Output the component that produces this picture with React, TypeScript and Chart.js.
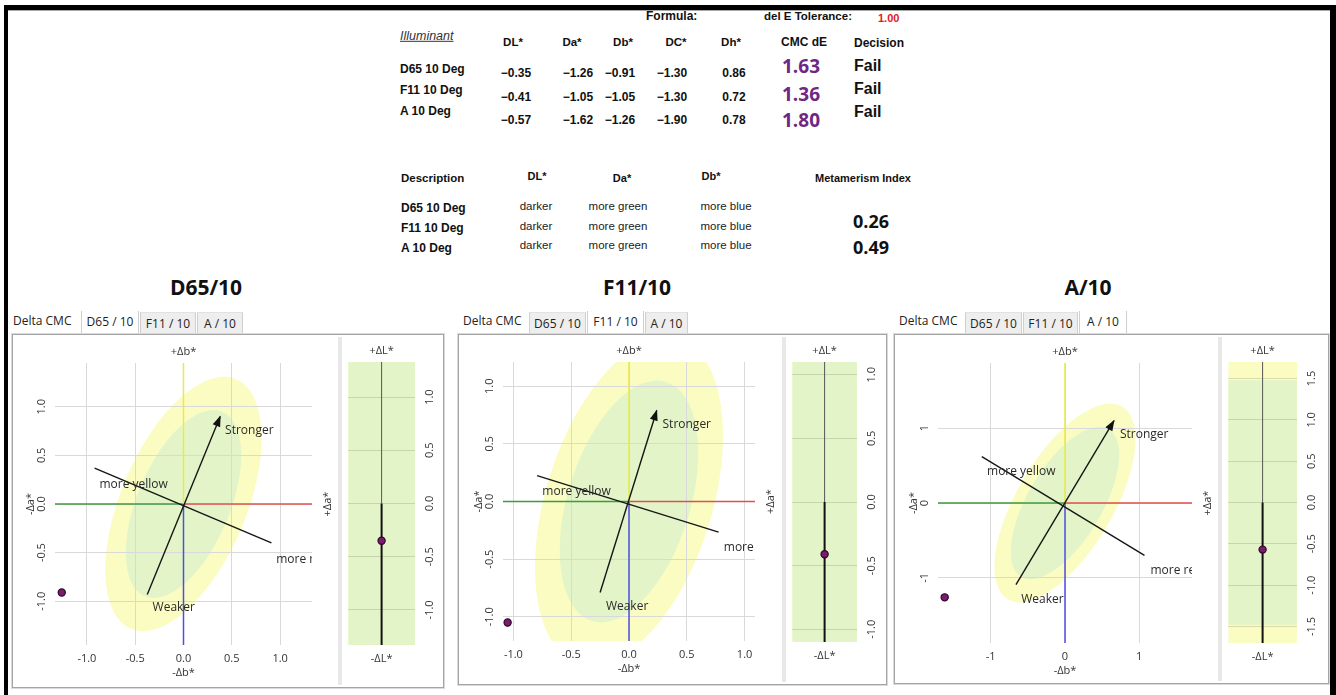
import React, { useEffect, useRef } from "react";
import { Chart, registerables } from "chart.js";

Chart.register(...registerables);

// ---------------- data ----------------
const illuminants = ["D65 10 Deg", "F11 10 Deg", "A 10 Deg"];
const panelTitles = ["D65/10", "F11/10", "A/10"];
const tabNames = ["D65 / 10", "F11 / 10", "A / 10"];
const tableHeaders = ["DL*", "Da*", "Db*", "DC*", "Dh*", "CMC dE", "Decision"];
const deltaL = [-0.35, -0.41, -0.57];
const deltaA = [-1.26, -1.05, -1.62];
const deltaB = [-0.91, -1.05, -1.26];
const deltaC = [-1.3, -1.3, -1.9];
const deltaH = [0.86, 0.72, 0.78];
const cmcDE = [1.63, 1.36, 1.8];
const decisions = ["Fail", "Fail", "Fail"];
const toleranceDE = 1.0;
const descHeaders = ["DL*", "Da*", "Db*"];
const descL = ["darker", "darker", "darker"];
const descA = ["more green", "more green", "more green"];
const descB = ["more blue", "more blue", "more blue"];
const metamerismIndex = [0.26, 0.49];

// chart values (data units)
const abLimitX = [1.33, 1.09, 1.71];
const abLimitY = [1.45, 1.21, 1.87];
const abStep = [0.5, 0.5, 1];
const lLimit = [1.33, 1.1, 1.7];
const lStep = [0.5, 0.5, 0.5];
const hueStart = [[-0.92, 0.37], [-0.795, 0.225], [-1.12, 0.62]];
const hueEnd = [[0.91, -0.4], [0.775, -0.266], [1.07, -0.7]];
const chromaStart = [[-0.375, -0.93], [-0.25, -0.79], [-0.66, -1.09]];
const chromaEnd = [[0.38, 0.9], [0.24, 0.79], [0.66, 1.1]];
const ellipseAngleDeg = [67, 72.8, 59];
const ellipseInner = [[1.03, 0.48], [1.086, 0.53], [1.15, 0.5]];
const ellipseOuter = [[1.395, 0.65], [1.47, 0.72], [1.5, 0.645]];
const lTolInner = [1.48, 1.48, 1.48];
const lTolOuter = [2.0, 2.0, 2.0];
const annotationTexts = ["Stronger", "Weaker", "more yellow", "more red"];
const annotationAnchors = [
  [[0.43, 0.76], [-0.32, -1.07], [-0.87, 0.2], [0.96, -0.57]],
  [[0.29, 0.67], [-0.2, -0.91], [-0.75, 0.09], [0.82, -0.4]],
  [[0.74, 0.91], [-0.59, -1.29], [-1.05, 0.42], [1.15, -0.9]],
];

// ---------------- layout ----------------
type Rect = [number, number, number, number];
const panels = [
  {
    titleX: 206,
    box: [12, 334, 432, 354] as Rect,
    sep: 338,
    mainCanvas: [13, 335, 325, 352] as Rect,
    mainArea: [55, 363, 312, 645],
    lCanvas: [343, 335, 100, 352] as Rect,
    lArea: [348, 362, 415, 645],
    deltaX: 13,
    tabs: [[81, 139], [140, 196], [197, 243]],
    active: 0,
  },
  {
    titleX: 637,
    box: [458, 334, 429, 351] as Rect,
    sep: 782,
    mainCanvas: [459, 335, 323, 349] as Rect,
    mainArea: [503, 362, 755, 641],
    lCanvas: [787, 335, 99, 349] as Rect,
    lArea: [791, 362, 857, 642],
    deltaX: 463,
    tabs: [[529, 586], [587, 644], [645, 688]],
    active: 1,
  },
  {
    titleX: 1088,
    box: [894, 334, 435, 350] as Rect,
    sep: 1218,
    mainCanvas: [895, 335, 323, 348] as Rect,
    mainArea: [938, 363, 1192, 643],
    lCanvas: [1223, 335, 105, 348] as Rect,
    lArea: [1228, 362, 1297, 643],
    deltaX: 899,
    tabs: [[965, 1022], [1023, 1078], [1079, 1127]],
    active: 2,
  },
];

const CH_FONT = "'Open Sans', 'Noto Sans', sans-serif";
const TB_FONT = "'Liberation Sans', Arial, sans-serif";

const fmtSigned = (v: number) => (v < 0 ? "\u2212" + Math.abs(v).toFixed(2) : v.toFixed(2));
const fmtTick = (v: number, step: number) =>
  step < 1 ? (Math.abs(v) < 1e-9 ? 0 : v).toFixed(1) : String(Math.round(v) === 0 ? 0 : Math.round(v));

function rotText(ctx: CanvasRenderingContext2D, text: string, x: number, y: number) {
  ctx.save();
  ctx.translate(x, y);
  ctx.rotate(-Math.PI / 2);
  ctx.textAlign = "center";
  ctx.textBaseline = "middle";
  ctx.fillText(text, 0, 0);
  ctx.restore();
}

function makeAbPlugin(i: number) {
  return {
    id: "abDecor" + i,
    beforeDraw(chart: any) {
      const { ctx, chartArea: a } = chart;
      const xs = chart.scales.x, ys = chart.scales.y;
      const cx = xs.getPixelForValue(0), cy = ys.getPixelForValue(0);
      const kx = xs.getPixelForValue(1) - cx, ky = ys.getPixelForValue(1) - cy;
      ctx.save();
      ctx.beginPath();
      ctx.rect(a.left, a.top, a.right - a.left, a.bottom - a.top);
      ctx.clip();
      const ell = (ax: number[], color: string) => {
        ctx.save();
        ctx.translate(cx, cy);
        ctx.scale(kx, ky);
        ctx.rotate((ellipseAngleDeg[i] * Math.PI) / 180);
        ctx.beginPath();
        ctx.ellipse(0, 0, ax[0], ax[1], 0, 0, Math.PI * 2);
        ctx.restore();
        ctx.fillStyle = color;
        ctx.fill();
      };
      ell(ellipseOuter[i], "#fbfcc2");
      ell(ellipseInner[i], "#e3f5c8");
      ctx.restore();
    },
    beforeDatasetsDraw(chart: any) {
      const { ctx, chartArea: a } = chart;
      const x0 = chart.scales.x.getPixelForValue(0), y0 = chart.scales.y.getPixelForValue(0);
      const seg = (x1: number, y1: number, x2: number, y2: number, c: string) => {
        ctx.beginPath();
        ctx.moveTo(x1, y1);
        ctx.lineTo(x2, y2);
        ctx.strokeStyle = c;
        ctx.lineWidth = 1.5;
        ctx.stroke();
      };
      ctx.save();
      seg(a.left, y0, x0, y0, "#3f9a3a");
      seg(x0, y0, a.right, y0, "#e0504c");
      seg(x0, a.top, x0, y0, "#e9e94a");
      seg(x0, y0, x0, a.bottom, "#4e4ee0");
      ctx.restore();
    },
    afterDatasetsDraw(chart: any) {
      const { ctx, chartArea: a } = chart;
      const xs = chart.scales.x, ys = chart.scales.y;
      // arrow head on the chroma line
      const sx = xs.getPixelForValue(chromaStart[i][0]), sy = ys.getPixelForValue(chromaStart[i][1]);
      const ex = xs.getPixelForValue(chromaEnd[i][0]), ey = ys.getPixelForValue(chromaEnd[i][1]);
      const ang = Math.atan2(ey - sy, ex - sx);
      ctx.save();
      ctx.translate(ex, ey);
      ctx.rotate(ang);
      ctx.beginPath();
      ctx.moveTo(1, 0);
      ctx.lineTo(-10, -4);
      ctx.lineTo(-10, 4);
      ctx.closePath();
      ctx.fillStyle = "#111";
      ctx.fill();
      ctx.restore();

      // annotations, clipped to the plot area
      ctx.save();
      ctx.beginPath();
      ctx.rect(a.left, a.top, a.right - a.left, a.bottom - a.top);
      ctx.clip();
      ctx.font = `12px ${CH_FONT}`;
      ctx.fillStyle = "#2a2a2a";
      ctx.textAlign = "left";
      ctx.textBaseline = "middle";
      annotationTexts.forEach((t, k) => {
        const p = annotationAnchors[i][k];
        ctx.fillText(t, xs.getPixelForValue(p[0]), ys.getPixelForValue(p[1]));
      });
      ctx.restore();

      // ticks and axis titles
      ctx.save();
      ctx.font = `11px ${CH_FONT}`;
      ctx.fillStyle = "#333";
      ctx.textAlign = "center";
      ctx.textBaseline = "middle";
      const x0 = xs.getPixelForValue(0), y0 = ys.getPixelForValue(0);
      xs.ticks.forEach((t: any) => {
        ctx.fillText(fmtTick(t.value, abStep[i]), xs.getPixelForValue(t.value), a.bottom + 14);
      });
      ys.ticks.forEach((t: any) => {
        rotText(ctx, fmtTick(t.value, abStep[i]), a.left - 13, ys.getPixelForValue(t.value));
      });
      ctx.fillText("+\u0394b*", x0, a.top - 11);
      ctx.fillText("-\u0394b*", x0, a.bottom + 28);
      rotText(ctx, "-\u0394a*", a.left - 24, y0);
      rotText(ctx, "+\u0394a*", a.right + 16, y0);
      ctx.restore();
    },
  };
}

function makeLPlugin(i: number) {
  return {
    id: "lDecor" + i,
    beforeDraw(chart: any) {
      const { ctx, chartArea: a } = chart;
      const ys = chart.scales.y;
      ctx.save();
      ctx.beginPath();
      ctx.rect(a.left, a.top, a.right - a.left, a.bottom - a.top);
      ctx.clip();
      const band = (tol: number, c: string) => {
        const t = ys.getPixelForValue(tol), b = ys.getPixelForValue(-tol);
        ctx.fillStyle = c;
        ctx.fillRect(a.left, t, a.right - a.left, b - t);
      };
      band(lTolOuter[i], "#fbfcc2");
      band(lTolInner[i], "#e3f5c8");
      ctx.restore();
    },
    beforeDatasetsDraw(chart: any) {
      const { ctx, chartArea: a } = chart;
      const x0 = chart.scales.x.getPixelForValue(0), y0 = chart.scales.y.getPixelForValue(0);
      ctx.save();
      ctx.beginPath();
      ctx.moveTo(x0, a.top);
      ctx.lineTo(x0, y0);
      ctx.strokeStyle = "#555";
      ctx.lineWidth = 1;
      ctx.stroke();
      ctx.beginPath();
      ctx.moveTo(x0, y0);
      ctx.lineTo(x0, a.bottom);
      ctx.strokeStyle = "#111";
      ctx.lineWidth = 2;
      ctx.stroke();
      ctx.restore();
    },
    afterDatasetsDraw(chart: any) {
      const { ctx, chartArea: a } = chart;
      const ys = chart.scales.y;
      const x0 = chart.scales.x.getPixelForValue(0);
      ctx.save();
      ctx.font = `11px ${CH_FONT}`;
      ctx.fillStyle = "#333";
      ctx.textAlign = "center";
      ctx.textBaseline = "middle";
      ys.ticks.forEach((t: any) => {
        rotText(ctx, fmtTick(t.value, lStep[i]), a.right + 15, ys.getPixelForValue(t.value));
      });
      ctx.fillText("+\u0394L*", x0, a.top - 11);
      ctx.fillText("-\u0394L*", x0, a.bottom + 14);
      ctx.restore();
    },
  };
}

function padOf(canvas: Rect, area: number[]) {
  return {
    left: area[0] - canvas[0],
    top: area[1] - canvas[1],
    right: canvas[0] + canvas[2] - area[2],
    bottom: canvas[1] + canvas[3] - area[3],
  };
}

function abConfig(i: number): any {
  const p = panels[i];
  const lineDs = (s: number[], e: number[]) => ({
    data: [{ x: s[0], y: s[1] }, { x: e[0], y: e[1] }],
    showLine: true,
    borderColor: "#161616",
    borderWidth: 1.4,
    pointRadius: 0,
    fill: false,
  });
  return {
    type: "scatter",
    data: {
      datasets: [
        lineDs(hueStart[i], hueEnd[i]),
        lineDs(chromaStart[i], chromaEnd[i]),
        {
          data: [{ x: deltaA[i], y: deltaB[i] }],
          pointRadius: 3.6,
          pointBackgroundColor: "#7a1b6c",
          pointBorderColor: "#2a0826",
          pointBorderWidth: 1.2,
        },
      ],
    },
    options: {
      animation: false,
      responsive: false,
      events: [],
      layout: { padding: padOf(p.mainCanvas, p.mainArea) },
      plugins: { legend: { display: false }, tooltip: { enabled: false } },
      scales: {
        x: {
          type: "linear",
          min: -abLimitX[i],
          max: abLimitX[i],
          ticks: { display: false, stepSize: abStep[i], includeBounds: false },
          grid: { color: "#d9d9d9", drawTicks: false, lineWidth: 1 },
          border: { display: false },
        },
        y: {
          type: "linear",
          min: -abLimitY[i],
          max: abLimitY[i],
          ticks: { display: false, stepSize: abStep[i], includeBounds: false },
          grid: { color: "#d9d9d9", drawTicks: false, lineWidth: 1 },
          border: { display: false },
        },
      },
    },
    plugins: [makeAbPlugin(i)],
  };
}

function lConfig(i: number): any {
  const p = panels[i];
  return {
    type: "scatter",
    data: {
      datasets: [
        {
          data: [{ x: 0, y: deltaL[i] }],
          pointRadius: 3.6,
          pointBackgroundColor: "#7a1b6c",
          pointBorderColor: "#2a0826",
          pointBorderWidth: 1.2,
        },
      ],
    },
    options: {
      animation: false,
      responsive: false,
      events: [],
      layout: { padding: padOf(p.lCanvas, p.lArea) },
      plugins: { legend: { display: false }, tooltip: { enabled: false } },
      scales: {
        x: { type: "linear", display: false, min: -1, max: 1 },
        y: {
          type: "linear",
          min: -lLimit[i],
          max: lLimit[i],
          ticks: { display: false, stepSize: lStep[i], includeBounds: false },
          grid: { color: "rgba(0,0,0,0.13)", drawTicks: false, lineWidth: 1 },
          border: { display: false },
        },
      },
    },
    plugins: [makeLPlugin(i)],
  };
}

function ChartCanvas({ rect, make }: { rect: Rect; make: () => any }) {
  const ref = useRef<HTMLCanvasElement>(null);
  useEffect(() => {
    const chart = new Chart(ref.current as HTMLCanvasElement, make());
    return () => chart.destroy();
  }, []);
  return (
    <canvas
      ref={ref}
      width={rect[2]}
      height={rect[3]}
      style={{ position: "absolute", left: rect[0], top: rect[1], width: rect[2], height: rect[3] }}
    />
  );
}

function Txt({ x, y, a = "left", s, children }: any) {
  const tx = a === "center" ? "-50%" : a === "right" ? "-100%" : "0";
  return (
    <div
      style={{
        position: "absolute",
        left: x,
        top: y,
        transform: `translate(${tx}, -50%)`,
        whiteSpace: "nowrap",
        lineHeight: 1.15,
        ...s,
      }}
    >
      {children}
    </div>
  );
}

const bold12 = { fontFamily: TB_FONT, fontWeight: 700, fontSize: 12, color: "#111" };
const bold11 = { fontFamily: TB_FONT, fontWeight: 700, fontSize: 11, color: "#111" };

function Panel({ i }: { i: number }) {
  const p = panels[i];
  const [bx, by, bw, bh] = p.box;
  return (
    <>
      <Txt x={p.titleX} y={287} a="center" s={{ fontFamily: CH_FONT, fontWeight: 700, fontSize: 21, color: "#111" }}>
        {panelTitles[i]}
      </Txt>
      <Txt x={p.deltaX} y={321} s={{ fontFamily: CH_FONT, fontSize: 12, color: "#222" }}>
        Delta CMC
      </Txt>
      {p.tabs.map((t, k) => {
        const act = k === p.active;
        return (
          <div
            key={k}
            style={{
              position: "absolute",
              left: t[0],
              top: act ? 311 : 312,
              width: t[1] - t[0],
              height: act ? 23 : 22,
              boxSizing: "border-box",
              background: act ? "#fff" : "#eeeeee",
              borderLeft: "1px solid #cfcfcf",
              borderRight: "1px solid #cfcfcf",
              borderTop: act ? "none" : "1px solid #e2e2e2",
              fontFamily: CH_FONT,
              fontSize: 12,
              color: "#222",
              display: "flex",
              alignItems: "center",
              justifyContent: "center",
              paddingBottom: act ? 3 : 0,
            }}
          >
            {tabNames[k]}
          </div>
        );
      })}
      <div
        style={{
          position: "absolute",
          left: bx,
          top: by,
          width: bw,
          height: bh,
          boxSizing: "border-box",
          border: "1px solid #a4a4a4",
          boxShadow: "0 0 0 1px #dadada",
          background: "#fff",
        }}
      />
      <div
        style={{ position: "absolute", left: p.sep, top: by + 3, width: 4, height: bh - 6, background: "#e8e8e8" }}
      />
      <ChartCanvas rect={p.mainCanvas} make={() => abConfig(i)} />
      <ChartCanvas rect={p.lCanvas} make={() => lConfig(i)} />
    </>
  );
}

export default function App() {
  const headerX = [513, 572, 623, 676, 731, 804, 879];
  const valueX = [516, 578, 620, 672, 734];
  const rowY = [70, 91, 112];
  const valY = [74, 98, 121];
  const cmcY = [67, 95, 121];
  const failY = [66, 89, 112];
  const descRowY = [209, 229, 249];
  const descValY = [207, 227, 246];
  const miY = [221, 247];
  return (
    <div
      style={{
        position: "absolute",
        left: 0,
        top: 0,
        width: 1336,
        height: 695,
        overflow: "hidden",
        background: "#fff",
      }}
    >
      {/* outer frame */}
      <div
        style={{
          position: "absolute",
          left: 4,
          top: 5,
          width: 1332,
          height: 720,
          boxSizing: "border-box",
          borderTop: "5px solid #000",
          borderLeft: "4px solid #000",
          borderRight: "6px solid #000",
        }}
      />
      <div style={{ position: "absolute", left: 8, top: 10, width: 1322, height: 1, background: "#a8a8a8" }} />

      {/* top table */}
      <Txt x={646} y={17} s={bold12}>Formula:</Txt>
      <Txt x={764} y={17} s={{ ...bold11, fontSize: 11.5 }}>del E Tolerance:</Txt>
      <Txt x={878} y={18} s={{ ...bold11, color: "#e3191c" }}>{toleranceDE.toFixed(2)}</Txt>
      <Txt x={400} y={36} s={{ fontFamily: TB_FONT, fontStyle: "italic", textDecoration: "underline", fontSize: 12.5, color: "#333" }}>
        Illuminant
      </Txt>
      {tableHeaders.map((h, k) => (
        <Txt key={h} x={headerX[k]} y={k === 6 ? 44 : 43} a="center" s={{ ...bold11, fontSize: k >= 5 ? 12 : 11.5 }}>
          {h}
        </Txt>
      ))}
      {illuminants.map((name, r) => (
        <React.Fragment key={name}>
          <Txt x={400} y={rowY[r]} s={bold12}>{name}</Txt>
          {[deltaL[r], deltaA[r], deltaB[r], deltaC[r], deltaH[r]].map((v, k) => (
            <Txt key={k} x={valueX[k]} y={valY[r]} a="center" s={bold12}>
              {fmtSigned(v)}
            </Txt>
          ))}
          <Txt x={801} y={cmcY[r]} a="center" s={{ fontFamily: CH_FONT, fontWeight: 700, fontSize: 19, color: "#6e2783" }}>
            {cmcDE[r].toFixed(2)}
          </Txt>
          <Txt x={854} y={failY[r]} s={{ ...bold12, fontSize: 16 }}>{decisions[r]}</Txt>
        </React.Fragment>
      ))}

      {/* description table */}
      <Txt x={401} y={179} s={{ ...bold11, fontSize: 11.5 }}>Description</Txt>
      {descHeaders.map((h, k) => (
        <Txt key={h} x={[537, 622, 711][k]} y={[176, 178, 176][k]} a="center" s={bold11}>
          {h}
        </Txt>
      ))}
      <Txt x={863} y={178} a="center" s={bold11}>Metamerism Index</Txt>
      {illuminants.map((name, r) => (
        <React.Fragment key={"d" + name}>
          <Txt x={401} y={descRowY[r]} s={bold12}>{name}</Txt>
          {[descL[r], descA[r], descB[r]].map((t, k) => (
            <Txt key={k} x={[536, 618, 726][k]} y={descValY[r]} a="center" s={{ fontFamily: TB_FONT, fontSize: 11.5, color: "#222" }}>
              {t}
            </Txt>
          ))}
        </React.Fragment>
      ))}
      {metamerismIndex.map((m, k) => (
        <Txt key={k} x={871} y={miY[k]} a="center" s={{ fontFamily: CH_FONT, fontWeight: 700, fontSize: 18, color: "#111" }}>
          {m.toFixed(2)}
        </Txt>
      ))}

      {panels.map((_, i) => (
        <Panel key={i} i={i} />
      ))}
    </div>
  );
}
